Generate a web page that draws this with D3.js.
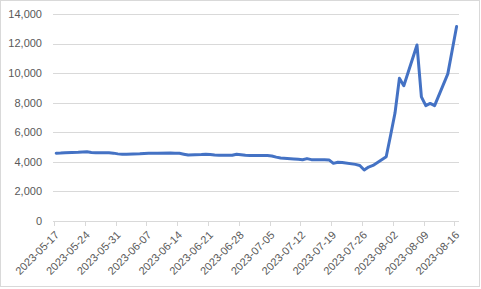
<!DOCTYPE html>
<html>
<head>
<meta charset="utf-8">
<script src="https://cdn.jsdelivr.net/npm/d3@7"></script>
<style>
  html, body { margin: 0; padding: 0; background: #fff; }
  text { font-family: "Liberation Sans", Arial, sans-serif; fill: #595959; }
</style>
</head>
<body>
<svg width="481" height="289"></svg>
<script>
const dates = [
  "2023-05-17", "2023-05-18", "2023-05-19", "2023-05-22", "2023-05-23", "2023-05-24", "2023-05-25", "2023-05-26",
  "2023-05-29", "2023-05-30", "2023-05-31", "2023-06-01", "2023-06-02", "2023-06-05", "2023-06-06", "2023-06-07",
  "2023-06-08", "2023-06-09", "2023-06-12", "2023-06-13", "2023-06-14", "2023-06-15", "2023-06-16", "2023-06-19",
  "2023-06-20", "2023-06-21", "2023-06-22", "2023-06-23", "2023-06-26", "2023-06-27", "2023-06-28", "2023-06-29",
  "2023-06-30", "2023-07-03", "2023-07-04", "2023-07-05", "2023-07-06", "2023-07-07", "2023-07-10", "2023-07-11",
  "2023-07-12", "2023-07-13", "2023-07-14", "2023-07-17", "2023-07-18", "2023-07-19", "2023-07-20", "2023-07-21",
  "2023-07-24", "2023-07-25", "2023-07-26", "2023-07-27", "2023-07-28", "2023-07-31", "2023-08-01", "2023-08-02",
  "2023-08-03", "2023-08-04", "2023-08-07", "2023-08-08", "2023-08-09", "2023-08-10", "2023-08-11", "2023-08-14",
  "2023-08-15", "2023-08-16"
];
const values = [
  4590, 4600, 4620, 4650, 4670, 4680, 4640, 4620,
  4610, 4590, 4540, 4520, 4520, 4550, 4570, 4580,
  4590, 4590, 4600, 4590, 4580, 4520, 4460, 4490,
  4510, 4500, 4460, 4450, 4450, 4520, 4480, 4440,
  4430, 4430, 4430, 4400, 4320, 4260, 4200, 4170,
  4140, 4220, 4150, 4140, 4130, 3900, 3970, 3960,
  3830, 3750, 3450, 3650, 3760, 4350, 5800, 7300,
  9650, 9150, 11900, 8400, 7800, 7950, 7800, 9950,
  11550, 13150
];
const yTicks = [0, 2000, 4000, 6000, 8000, 10000, 12000, 14000];
const xTickStart = "2023-05-17";
const xTickEnd = "2023-08-16";

const parse = d3.timeParse("%Y-%m-%d");
const fmt = d3.timeFormat("%Y-%m-%d");
const data = dates.map((d, i) => ({ date: parse(d), value: values[i] }));

const svg = d3.select("svg");

// chart border
svg.append("rect")
  .attr("x", 0.5).attr("y", 0.5)
  .attr("width", 479).attr("height", 286)
  .attr("fill", "#fff")
  .attr("stroke", "#d9d9d9");

// one slot per day, ticks at slot edge, points in slot middle
const x = d3.scaleTime()
  .domain([parse(xTickStart), d3.timeDay.offset(parse(xTickEnd), 1)])
  .range([54, 54 + 92 * 4.4]);
const y = d3.scaleLinear()
  .domain([0, 14000])
  .range([221, 14]);

const left = 53, right = 459;

// gridlines
svg.append("g")
  .selectAll("line")
  .data(yTicks.filter(d => d > 0))
  .join("line")
  .attr("x1", left).attr("x2", right)
  .attr("y1", d => Math.round(y(d)) + 0.5)
  .attr("y2", d => Math.round(y(d)) + 0.5)
  .attr("stroke", "#d9d9d9")
  .attr("stroke-width", 1);

// y labels
svg.append("g")
  .selectAll("text")
  .data(yTicks)
  .join("text")
  .attr("x", 42)
  .attr("y", d => y(d))
  .attr("dy", "0.35em")
  .attr("text-anchor", "end")
  .style("font-size", "11px")
  .text(d3.format(","));

// x axis line and ticks
const weekTicks = d3.timeWednesday.range(parse(xTickStart), d3.timeDay.offset(parse(xTickEnd), 1));
svg.append("line")
  .attr("x1", left).attr("x2", right)
  .attr("y1", 221.5).attr("y2", 221.5)
  .attr("stroke", "#d9d9d9");
svg.append("g")
  .selectAll("line")
  .data(weekTicks)
  .join("line")
  .attr("x1", d => Math.round(x(d)) + 0.5)
  .attr("x2", d => Math.round(x(d)) + 0.5)
  .attr("y1", 221).attr("y2", 226)
  .attr("stroke", "#d9d9d9");

svg.append("g")
  .selectAll("text")
  .data(weekTicks)
  .join("text")
  .attr("transform", d => `translate(${x(d) + 3},${233}) rotate(-45)`)
  .attr("dy", "0.35em")
  .attr("text-anchor", "end")
  .style("font-size", "11px")
  .text(d => fmt(d));

// the series
const line = d3.line()
  .x(d => x(d3.timeHour.offset(d.date, 12)))
  .y(d => y(d.value));

svg.append("path")
  .datum(data)
  .attr("d", line)
  .attr("fill", "none")
  .attr("stroke", "#4472c4")
  .attr("stroke-width", 3)
  .attr("stroke-linejoin", "round")
  .attr("stroke-linecap", "round");
</script>
</body>
</html>
